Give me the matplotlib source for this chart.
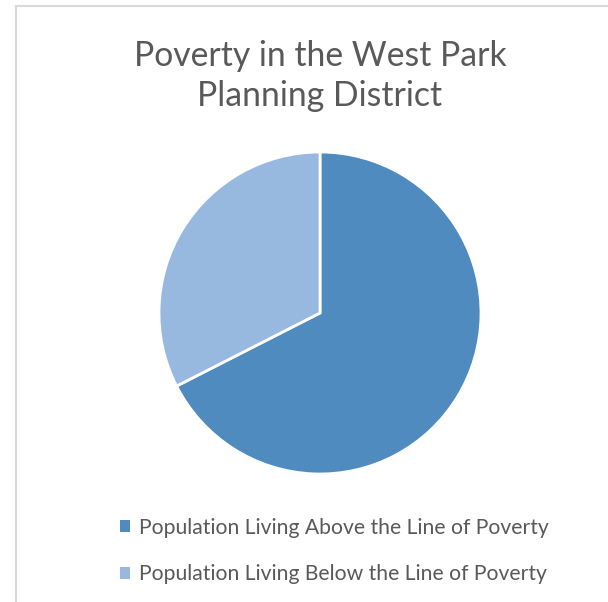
import matplotlib
matplotlib.use("Agg")
import matplotlib.pyplot as plt
from matplotlib.lines import Line2D
from matplotlib.patches import Patch

# data
labels = ["Population Living Above the Line of Poverty",
          "Population Living Below the Line of Poverty"]
shares = [67.5, 32.5]
colors = ["#4f8bbf", "#97b9e0"]
title = "Poverty in the West Park\nPlanning District"

plt.rcParams["font.family"] = ["Lato", "DejaVu Sans"]

W, H = 608, 602
fig = plt.figure(figsize=(W / 100, H / 100), dpi=100)

# chart frame (only top and left edges fall inside the image)
frame = "#d9d9d9"
fig.add_artist(Line2D([16 / W, 1], [1 - 6 / H, 1 - 6 / H], color=frame, lw=1.5))
fig.add_artist(Line2D([16 / W, 16 / W], [0, 1 - 6 / H], color=frame, lw=1.5))

# pie: center (320, 313), radius 161 px
cx, cy, r = 320, 313, 161
ax = fig.add_axes([(cx - r) / W, (H - cy - r) / H, 2 * r / W, 2 * r / H])
ax.pie(shares, colors=colors, startangle=90, counterclock=False,
       wedgeprops=dict(edgecolor="white", linewidth=2))
ax.set_xlim(-1, 1)
ax.set_ylim(-1, 1)
ax.axis("off")

fig.text(cx / W, 1 - 76 / H, title, ha="center", va="center",
         fontsize=24.3, color="#595959", linespacing=1.33)

handles = [Patch(facecolor=c, edgecolor="none") for c in colors]
fig.legend(handles, labels, loc="center", bbox_to_anchor=(334 / W, 1 - 551 / H),
           frameon=False, fontsize=15.2, labelcolor="#595959",
           handlelength=0.5, handleheight=0.5, handletextpad=0.4,
           labelspacing=1.25)

fig.savefig("out.png", dpi=100, facecolor="white")
